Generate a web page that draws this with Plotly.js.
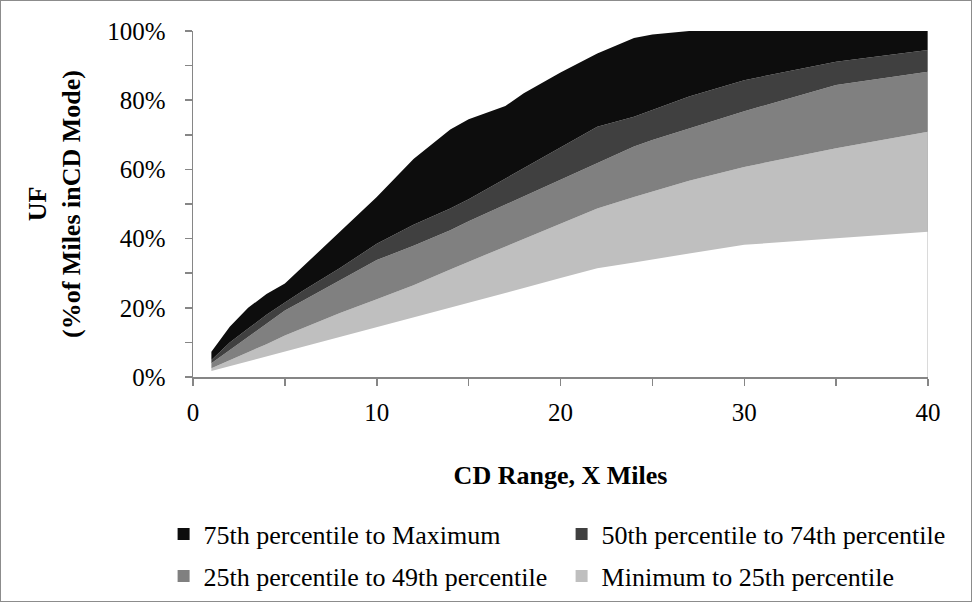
<!DOCTYPE html>
<html>
<head>
<meta charset="utf-8">
<script src="https://cdn.plot.ly/plotly-3.0.1.min.js"></script>
<style>
  html, body { margin: 0; padding: 0; background: #fff; }
  #chart { width: 970px; height: 600px; border: 1px solid #8c8c8c; }
</style>
</head>
<body>
<div id="chart"></div>
<script>
// CD range (miles)
const miles = [1, 2, 3, 4, 5, 6, 8, 10, 12, 14, 15, 17, 18, 20, 22, 24, 25, 27, 30, 35, 40];
// Utility factor boundaries (% of miles in CD mode)
const minimum = [1.7, 3.1, 4.5, 5.9, 7.3, 8.7, 11.5, 14.3, 17.1, 20.0, 21.4, 24.3, 25.7, 28.6, 31.4, 33.1, 34.0, 35.7, 38.2, 40.1, 42.0];
const pct25   = [2.5, 4.8, 7.0, 9.5, 12.0, 14.2, 18.5, 22.5, 26.5, 31.1, 33.3, 37.7, 39.9, 44.3, 48.7, 52.0, 53.6, 56.7, 60.7, 66.1, 70.9];
const pct50   = [4.0, 7.8, 11.6, 15.4, 19.2, 22.1, 28.0, 33.8, 37.9, 42.4, 45.0, 49.8, 52.2, 57.0, 61.7, 66.6, 68.5, 71.8, 76.8, 84.4, 88.2];
const pct75   = [4.9, 10.0, 14.0, 18.0, 21.5, 25.0, 31.5, 38.5, 44.0, 48.7, 51.4, 57.3, 60.3, 66.3, 72.3, 75.2, 77.2, 81.1, 85.8, 91.1, 94.5];
const maximum = [7.3, 14.5, 20.0, 24.0, 27.0, 32.0, 42.0, 52.0, 63.0, 71.5, 74.5, 78.3, 82.0, 88.0, 93.5, 98.0, 99.0, 100, 100, 100, 100];

const seriesNames = [
  "Minimum to 25th percentile",
  "25th percentile to 49th percentile",
  "50th percentile to 74th percentile",
  "75th percentile to Maximum"
];
const seriesColors = ["#bfbfbf", "#808080", "#404040", "#0d0d0d"];
const legendRow = ["legend2", "legend2", "legend", "legend"];
const uppers = [pct25, pct50, pct75, maximum];

const FONT = "Liberation Serif, Times New Roman, serif";
const AXIS = "#868686";

const traces = [{
  x: miles, y: minimum, mode: "lines", line: { width: 0, color: "rgba(0,0,0,0)" },
  showlegend: false, hoverinfo: "skip"
}];
uppers.forEach((u, i) => {
  traces.push({
    x: miles, y: u, mode: "lines", fill: "tonexty",
    fillcolor: seriesColors[i], line: { width: 0, color: seriesColors[i] },
    name: seriesNames[i], showlegend: false
  });
});
// legend entries (square swatches), in the reference's reading order
[3, 2, 1, 0].forEach(i => {
  traces.push({
    x: [null], y: [null], mode: "markers", name: seriesNames[i],
    marker: { symbol: "square", size: 12, color: seriesColors[i] },
    legend: legendRow[i], showlegend: true, hoverinfo: "skip"
  });
});

const legendBase = {
  orientation: "h", xref: "paper", yref: "paper",
  xanchor: "left", yanchor: "middle", x: -0.04,
  font: { family: FONT, size: 26, color: "#000" },
  entrywidth: 353, itemwidth: 30, bgcolor: "rgba(0,0,0,0)",
  traceorder: "normal"
};

const layout = {
  width: 970, height: 600,
  margin: { l: 192, r: 43, t: 30, b: 224, autoexpand: false },
  paper_bgcolor: "#fff", plot_bgcolor: "#fff",
  font: { family: FONT, size: 25, color: "#000" },
  xaxis: {
    range: [0, 40], dtick: 10, tick0: 0,
    showgrid: false, zeroline: false,
    showline: true, linecolor: AXIS, linewidth: 1.5,
    ticks: "outside", ticklen: 7, tickcolor: AXIS, tickwidth: 1.5,
    minor: { dtick: 5, ticks: "outside", ticklen: 7, tickcolor: AXIS, tickwidth: 1.5 },
    ticklabelstandoff: 5,
    tickfont: { family: FONT, size: 25, color: "#000" },
    title: { text: "<b>CD Range, X Miles</b>", font: { family: FONT, size: 26, color: "#000" }, standoff: 41 }
  },
  yaxis: {
    range: [0, 100], dtick: 20, tick0: 0, ticksuffix: "%",
    showgrid: false, zeroline: false,
    showline: true, linecolor: AXIS, linewidth: 1.5,
    ticks: "outside", ticklen: 7, tickcolor: AXIS, tickwidth: 1.5,
    minor: { dtick: 10, ticks: "outside", ticklen: 7, tickcolor: AXIS, tickwidth: 1.5 },
    ticklabelstandoff: 14,
    tickfont: { family: FONT, size: 25, color: "#000" },
    title: { text: "<b>UF<br>(%of Miles inCD Mode)</b>", font: { family: FONT, size: 26, color: "#000" }, standoff: 19 }
  },
  legend: Object.assign({}, legendBase, { y: -0.4538 }),
  legend2: Object.assign({}, legendBase, { y: -0.5751 }),
  shapes: [{
    type: "line", xref: "x", yref: "paper", x0: 40, x1: 40, y0: 0, y1: 1,
    line: { color: "#b4b4b4", width: 1 }, layer: "above"
  }],
  showlegend: true
};

Plotly.newPlot("chart", traces, layout, { displayModeBar: false, staticPlot: true });
</script>
</body>
</html>
